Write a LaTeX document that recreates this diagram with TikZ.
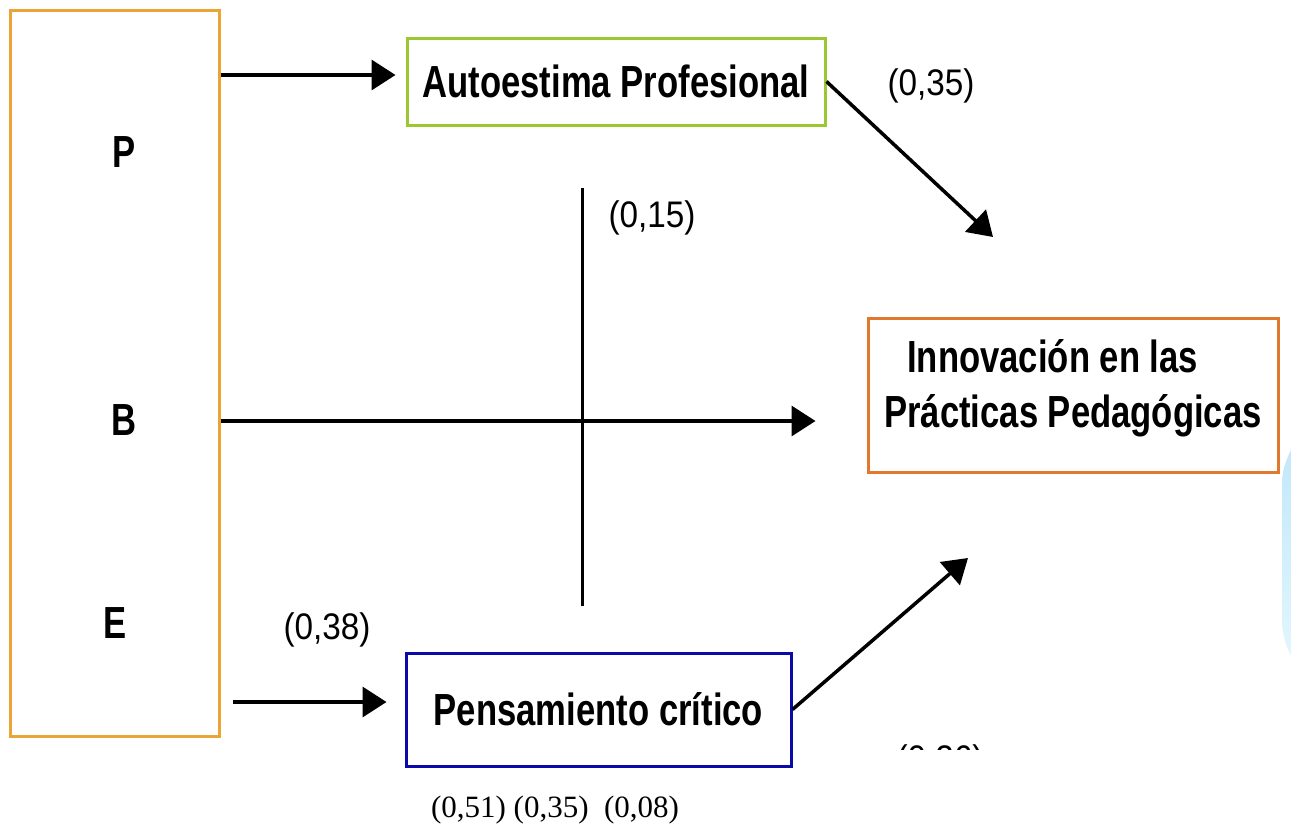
\documentclass[tikz,border=0pt]{standalone}
\usepackage{fontspec}
\setmainfont{Liberation Sans}
\newfontfamily\narrowsans[FakeStretch=0.77, UprightFont={* Bold}]{Liberation Sans}
\newfontfamily\labelsans[FakeStretch=0.9]{Liberation Sans}
\newfontfamily\timesf{Liberation Serif}
\usetikzlibrary{arrows.meta}
\definecolor{leftc}{RGB}{235,165,55}
\definecolor{greenc}{RGB}{155,200,50}
\definecolor{orangec}{RGB}{225,120,45}
\definecolor{bluec}{RGB}{10,10,170}
\definecolor{cyanlight}{RGB}{195,232,250}
\definecolor{cyanpale}{RGB}{225,246,253}
\tikzset{
  boxbase/.style={draw, line width=3pt, inner sep=0pt, rectangle},
  maintext/.style={font=\narrowsans\fontsize{45pt}{55pt}\selectfont, inner sep=0pt},
  labeltext/.style={font=\labelsans\fontsize{37pt}{42pt}\selectfont, inner sep=0pt},
  arr/.style={-{Triangle[length=24pt,width=30pt]}, line width=3.5pt},
  plainline/.style={line width=3pt}
}
\begin{document}
\begin{tikzpicture}[x=1pt,y=-1pt]
\useasboundingbox (0,0) rectangle (1291,827);
\fill[white] (0,0) rectangle (1291,827);
% light blue decoration at right edge
\shade[top color=cyanlight, bottom color=cyanpale]
  (1291,450) .. controls (1285,462) and (1282,472) .. (1282,484)
  -- (1282,622) .. controls (1283,638) and (1287,648) .. (1291,656) -- cycle;

% boxes
\node[boxbase, draw=leftc, minimum width=209pt, minimum height=726pt] (pbe) at (114.5,373) {};
\node[boxbase, draw=greenc, maintext, minimum width=418pt, minimum height=87pt] (auto) at (616,81.5)
  {Autoestima Profesional};
\node[boxbase, draw=orangec, maintext, align=left, minimum width=410pt, minimum height=154pt] (inn) at (1073,395)
  {\hspace*{23pt}Innovación en las\\Prácticas Pedagógicas\rule[-24pt]{0pt}{0pt}};
\node[boxbase, draw=bluec, maintext, minimum width=385pt, minimum height=113pt] (pen) at (598.5,709.5)
  {Pensamiento crítico};

% letters in the left box
\node[maintext, anchor=base] (P) at (124,167) {P};
\node[maintext, anchor=base] (B) at (124,435) {B};
\node[maintext, anchor=base] (E) at (115,638) {E};

% helper coordinates
\coordinate (ya) at (0,75);
\coordinate (yb) at (0,421);
\coordinate (yc) at (0,702);
\coordinate (t1) at (993,237);
\coordinate (t2) at (968,558);
\coordinate (v1) at (582,188);
\coordinate (v2) at (582,606);

% connectors
\draw[arr, shorten >=10pt] (pbe.east |- ya) -- (auto.west |- ya);
\draw[arr, shorten >=51pt] (pbe.east |- yb) -- (inn.west |- yb);
\draw[arr, shorten <=12pt, shorten >=18pt] (pbe.east |- yc) -- (pen.west |- yc);
\draw[arr] (auto.east) -- (t1);
\draw[arr] (pen.east) -- (t2);
\draw[plainline] (v1) -- (v2);

% coefficient labels
\node[labeltext] (l35) at (931,86) {(0,35)};
\node[labeltext] (l15) at (652,218) {(0,15)};
\node[labeltext] (l38) at (327,630) {(0,38)};
\begin{scope}
  \clip (880,735) rectangle (1000,749);
  \node[labeltext, anchor=north] (l26) at (940,744) {(0,26)};
\end{scope}
\node[font=\timesf\fontsize{31pt}{36pt}\selectfont, inner sep=0pt, anchor=base] (bottom) at (555,817)
  {(0,51) (0,35)\ \ (0,08)};
\end{tikzpicture}
\end{document}
